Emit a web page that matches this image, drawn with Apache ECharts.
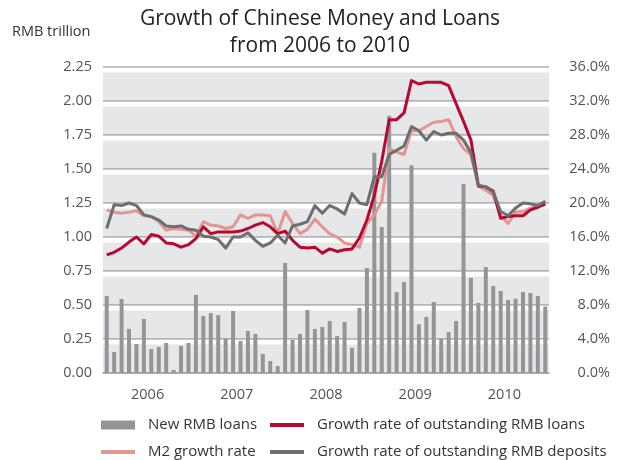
<!DOCTYPE html>
<html>
<head>
<meta charset="utf-8">
<script src="https://cdn.jsdelivr.net/npm/echarts@6/dist/echarts.min.js"></script>
<style>
  html, body { margin: 0; padding: 0; background: #ffffff; }
  #chart { width: 620px; height: 460px; }
</style>
</head>
<body>
<div id="chart"></div>
<script>
// Year labels and monthly categories (Jan 2006 .. Dec 2010)
const years = ['2006', '2007', '2008', '2009', '2010'];
const months = [];
years.forEach(function (y) {
  for (let m = 1; m <= 12; m++) months.push(y + '-' + (m < 10 ? '0' + m : m));
});

// New RMB loans per month, RMB trillion
const newLoans = [
  0.566, 0.154, 0.544, 0.324, 0.213, 0.397, 0.176, 0.191, 0.221, 0.022, 0.199, 0.221,
  0.574, 0.419, 0.441, 0.426, 0.255, 0.456, 0.235, 0.309, 0.287, 0.140, 0.088, 0.051,
  0.809, 0.243, 0.287, 0.463, 0.324, 0.338, 0.382, 0.272, 0.375, 0.184, 0.478, 0.772,
  1.620, 1.074, 1.892, 0.596, 0.669, 1.527, 0.358, 0.412, 0.522, 0.252, 0.301, 0.382,
  1.390, 0.699, 0.515, 0.779, 0.640, 0.603, 0.537, 0.546, 0.596, 0.588, 0.566, 0.488
];

// Year-on-year growth of outstanding RMB loans, %
const loanGrowth = [
  13.9, 14.2, 14.7, 15.4, 16.0, 15.2, 16.3, 16.1, 15.3, 15.2, 14.8, 15.1,
  15.8, 17.2, 16.4, 16.6, 16.6, 16.6, 16.7, 17.0, 17.4, 17.7, 17.2, 16.4,
  16.7, 15.6, 14.8, 14.7, 14.8, 14.1, 14.6, 14.3, 14.5, 14.6, 15.9, 18.0,
  20.9, 24.9, 29.8, 29.8, 30.6, 34.4, 34.0, 34.2, 34.2, 34.2, 33.8, 31.7,
  29.6, 27.4, 22.0, 21.9, 21.4, 18.2, 18.4, 18.5, 18.5, 19.2, 19.5, 19.9
];

// M2 growth rate, %
const m2Growth = [
  19.2, 18.9, 18.8, 18.9, 19.1, 18.5, 18.4, 17.8, 16.8, 17.0, 16.9, 16.8,
  16.1, 17.8, 17.4, 17.3, 17.0, 17.2, 18.6, 18.2, 18.6, 18.6, 18.5, 16.4,
  19.0, 17.6, 16.4, 16.9, 18.1, 17.2, 16.4, 16.0, 15.3, 15.1, 14.8, 17.6,
  18.6, 20.2, 26.4, 26.0, 25.7, 28.5, 28.5, 29.0, 29.5, 29.6, 29.8, 27.8,
  26.4, 25.7, 22.0, 21.5, 20.9, 18.5, 17.6, 18.9, 19.0, 19.4, 19.6, 19.8
];

// Year-on-year growth of outstanding RMB deposits, %
const depositGrowth = [
  17.0, 19.8, 19.7, 20.0, 19.7, 18.6, 18.4, 18.0, 17.3, 17.2, 17.3, 16.9,
  16.8, 16.1, 16.0, 15.7, 14.7, 16.0, 16.0, 16.5, 15.6, 14.9, 15.3, 16.2,
  15.3, 17.3, 17.5, 17.8, 19.7, 18.8, 19.7, 19.3, 18.7, 21.1, 20.0, 19.8,
  23.1, 23.1, 25.7, 26.2, 26.7, 29.0, 28.5, 27.4, 28.4, 28.0, 28.2, 28.2,
  27.4, 25.9, 22.1, 21.9, 21.3, 19.0, 18.5, 19.4, 20.0, 19.9, 19.7, 20.2
];

// Axis ticks
const leftTicks = [0, 0.25, 0.5, 0.75, 1.0, 1.25, 1.5, 1.75, 2.0, 2.25];
const rightTicks = [0, 4, 8, 12, 16, 20, 24, 28, 32, 36];

const FONT = "'Open Sans', 'Noto Sans', sans-serif";
const GRID_LINE = '#a3a5a8';
const LABEL = '#555555';
const AXIS_FONT = 14.5;

// White strips just beneath each horizontal grid line
const strips = leftTicks.filter(function (v) { return v > 0; }).map(function (v) {
  return [{ yAxis: v - 0.006 }, { yAxis: v - 0.04 }];
});

function legendBox(name, top, left, h) {
  return {
    data: [name], top: top, left: left, orient: 'horizontal',
    icon: 'rect', itemWidth: 34, itemHeight: h, padding: 0,
    selectedMode: false,
    textStyle: { fontFamily: FONT, fontSize: 15, lineHeight: 18, color: '#333', padding: [0, 0, 0, 8] }
  };
}

const chart = echarts.init(document.getElementById('chart'), null, { renderer: 'canvas' });

chart.setOption({
  animation: false,
  textStyle: { fontFamily: FONT },
  graphic: [
    { type: 'text', left: 12, top: 24, style: { text: 'RMB trillion', font: AXIS_FONT + 'px ' + FONT, fill: '#333' } },
    { type: 'text', x: 320, y: 19, style: { text: 'Growth of Chinese Money and Loans', font: '21px ' + FONT, fill: '#222', align: 'center', verticalAlign: 'middle' } },
    { type: 'text', x: 320, y: 46, style: { text: 'from 2006 to 2010', font: '21px ' + FONT, fill: '#222', align: 'center', verticalAlign: 'middle' } }
  ],
  grid: {
    left: 103, right: 71, top: 67, bottom: 87,
    show: true, backgroundColor: '#e6e7e8', borderWidth: 0
  },
  legend: [
    legendBox('New RMB loans', 416, 101, 9),
    legendBox('M2 growth rate', 443, 101, 4),
    legendBox('Growth rate of outstanding RMB loans', 416, 270, 4),
    legendBox('Growth rate of outstanding RMB deposits', 443, 270, 4)
  ],
  xAxis: [
    {
      type: 'category', data: months, boundaryGap: true,
      axisLine: { show: true, lineStyle: { color: GRID_LINE, width: 1.5 } },
      axisTick: { show: false }, axisLabel: { show: false }, splitLine: { show: false }
    },
    {
      type: 'category', data: years, boundaryGap: true, position: 'bottom',
      axisLine: { show: false }, axisTick: { show: false }, splitLine: { show: false },
      axisLabel: { color: LABEL, fontSize: AXIS_FONT, margin: 14, fontFamily: FONT }
    }
  ],
  yAxis: [
    {
      type: 'value', min: leftTicks[0], max: leftTicks[leftTicks.length - 1], interval: 0.25,
      axisLine: { show: false }, axisTick: { show: false },
      axisLabel: { color: LABEL, fontSize: AXIS_FONT, margin: 11, fontFamily: FONT,
        formatter: function (v) { return v.toFixed(2); } },
      splitLine: { show: true, lineStyle: { color: GRID_LINE, width: 1.5 } }
    },
    {
      type: 'value', min: rightTicks[0], max: rightTicks[rightTicks.length - 1], interval: 4,
      position: 'right',
      axisLine: { show: false }, axisTick: { show: false }, splitLine: { show: false },
      axisLabel: { color: LABEL, fontSize: AXIS_FONT, margin: 61, align: 'right', fontFamily: FONT,
        formatter: function (v) { return v.toFixed(1) + '%'; } }
    }
  ],
  series: [
    {
      name: 'New RMB loans', type: 'bar', xAxisIndex: 0, yAxisIndex: 0,
      data: newLoans, barWidth: 4, z: 2,
      itemStyle: { color: '#949598' },
      markArea: { silent: true, itemStyle: { color: '#ffffff' }, data: strips }
    },
    {
      name: 'M2 growth rate', type: 'line', xAxisIndex: 0, yAxisIndex: 1,
      data: m2Growth, symbol: 'none', z: 3,
      itemStyle: { color: '#e3968f' }, lineStyle: { color: '#e3968f', width: 3, join: 'round' }
    },
    {
      name: 'Growth rate of outstanding RMB loans', type: 'line', xAxisIndex: 0, yAxisIndex: 1,
      data: loanGrowth, symbol: 'none', z: 4,
      itemStyle: { color: '#b8082f' }, lineStyle: { color: '#b8082f', width: 3, join: 'round' }
    },
    {
      name: 'Growth rate of outstanding RMB deposits', type: 'line', xAxisIndex: 0, yAxisIndex: 1,
      data: depositGrowth, symbol: 'none', z: 5,
      itemStyle: { color: '#6d6e70' }, lineStyle: { color: '#6d6e70', width: 3, join: 'round' }
    }
  ]
});
</script>
</body>
</html>
